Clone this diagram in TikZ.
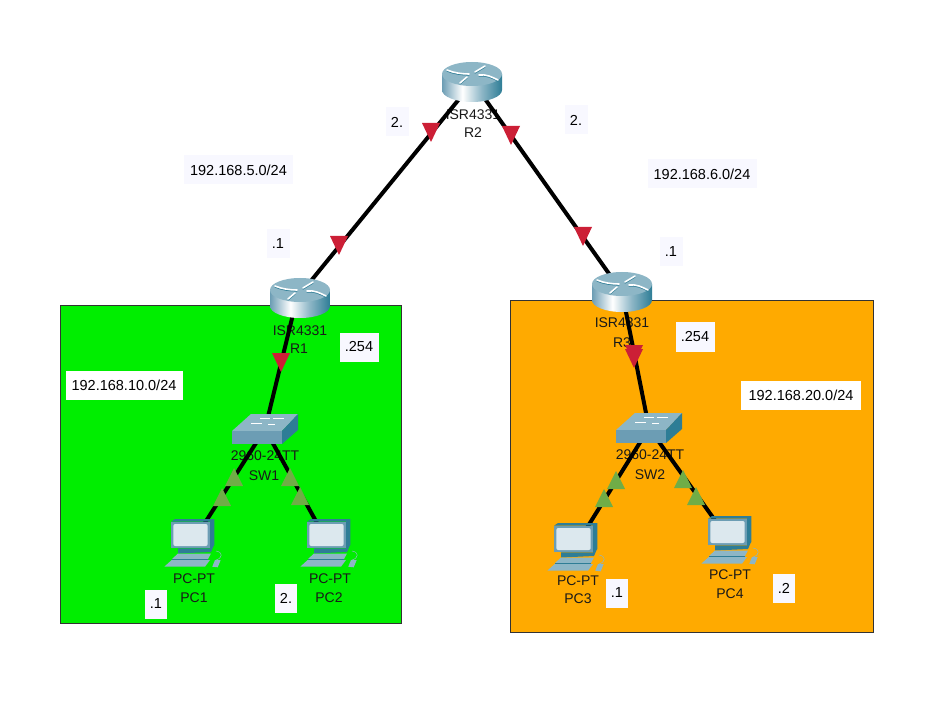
\documentclass[tikz,border=0pt]{standalone}
\usepackage{fontspec}
\setmainfont{Liberation Sans}
\usepackage{xcolor}
\usetikzlibrary{arrows.meta, positioning, calc}

\definecolor{areaGreen}{HTML}{00EE00}
\definecolor{areaOrange}{HTML}{FFAA00}
\definecolor{markRed}{HTML}{CC1F36}
\definecolor{markGreen}{HTML}{70AD47}
\definecolor{tagTint}{HTML}{F8F8FF}
\definecolor{iconTop}{HTML}{8DB6C6}
\definecolor{iconEdge}{HTML}{6C9DB4}
\definecolor{iconDark}{HTML}{2E7D96}
\definecolor{iconPale}{HTML}{DCE8EE}

\pgfdeclarehorizontalshading{routerside}{100bp}{color(0bp)=(iconEdge); color(25bp)=(iconEdge);
  color(42bp)=(white); color(58bp)=(iconTop); color(75bp)=(iconDark); color(100bp)=(iconDark)}

\tikzset{
  area/.style={draw=black!80, line width=1pt},
  link/.style={line width=4pt, black},
  tag/.style={fill=tagTint, font=\fontsize{14.5}{16}\selectfont, inner sep=0pt, minimum height=29pt},
  devlabel/.style={font=\fontsize{14}{16}\selectfont, black!90, inner sep=0pt},
  site/.style={inner sep=0pt, minimum size=1pt},
  redmark/.pic={\fill[markRed] (-9,-9) -- (9,-9) -- (0,10) -- cycle;},
  greenmark/.pic={\fill[markGreen] (-9,9) -- (9,9) -- (0,-9) -- cycle;},
  router/.pic={
    \path[shading=routerside] (-30,-8) -- (-30,8) arc[x radius=30, y radius=12, start angle=180, end angle=0] -- (30,-8) -- cycle;
    \fill[iconTop] (0,-8) ellipse[x radius=30, y radius=12];
    % arrows on the lid
    \draw[iconDark, line width=1.2pt, line cap=round, yshift=-1pt]
      (3,-10) -- (13,-16) (7,-7) .. controls (14,-8) and (20,-5) .. (26,-2)
      (-5,-5) -- (-12,1) (-3,-8) .. controls (-10,-8) and (-18,-9) .. (-25,-12);
    \draw[white, line width=1.6pt, line cap=round]
      (3,-10) -- (13,-16) (7,-7) .. controls (14,-8) and (20,-5) .. (26,-2)
      (-5,-5) -- (-12,1) (-3,-8) .. controls (-10,-8) and (-18,-9) .. (-25,-12);
  },
  switch/.pic={
    \fill[iconTop] (-33,2) -- (-14,-15) -- (33,-15) -- (17,2) -- cycle;
    \fill[iconEdge] (-33,2) rectangle (17,15);
    \fill[iconDark] (17,2) -- (33,-15) -- (33,1) -- (17,15) -- cycle;
    \draw[white, line width=.8pt] (-14,-6) -- (-3,-6) (-5,-11) -- (5,-11) (8,-11) -- (19,-11) (3,-5) -- (10,-5);
  },
  pcicon/.pic={
    \fill[iconDark] (-21,-21.3) -- (-17,-24) -- (22.3,-24) -- (22.3,2) -- (18,6) -- (18,-21.3) -- cycle;
    \fill[iconEdge] (-21,-21.3) rectangle (18,5.3);
    \fill[iconPale, rounded corners=2pt] (-18.7,-19) rectangle (15.7,3);
    \fill[iconDark] (-14,5.3) -- (18,5.3) -- (22,2) -- (19,9) -- (-14,10.5) -- cycle;
    \fill[iconTop] (-20,16) -- (-14,10.5) -- (19,10.5) -- (16,16) -- cycle;
    \fill[iconDark] (-20,16) rectangle (16,17);
    \fill[iconTop] (-27.7,23.7) -- (-20.3,17) -- (18,17) -- (13,23.7) -- cycle;
    \fill[iconTop] (20.3,23.7) -- (23,17) -- (28.7,17) -- (25.7,24.3) -- cycle;
    \draw[iconTop, line width=.5pt] (24,17) .. controls (31,15) and (31,9) .. (24,8);
  }
}

\begin{document}
\begin{tikzpicture}[x=1pt, y=-1pt]
\useasboundingbox (0,0) rectangle (945,711);

% subnets
\draw[area, fill=areaGreen] (60,306) rectangle (401,623);
\draw[area, fill=areaOrange] (510,301) rectangle (873,632);

% sites of the devices
\node[site] (R1) at (297,298) {};
\node[site] (R2) at (473,82) {};
\node[site] (R3) at (622,292) {};
\node[site] (SW1) at (265,429) {};
\node[site] (SW2) at (649,428) {};
\node[site] (PC1) at (192,543) {};
\node[site] (PC2) at (328,543) {};
\node[site] (PC3) at (575,547) {};
\node[site] (PC4) at (729,540) {};

% device names
\node[devlabel] at (300,331) {ISR4331};
\node[devlabel] at (299,349) {R1};
\node[devlabel] at (473,115) {ISR4331};
\node[devlabel] at (473,133) {R2};
\node[devlabel] at (622,323) {ISR4331};
\node[devlabel] at (622,343) {R3};
\node[devlabel] at (265,456) {2960-24TT};
\node[devlabel] at (264,476) {SW1};
\node[devlabel] at (650,455) {2960-24TT};
\node[devlabel] at (650,475) {SW2};
\node[devlabel] at (194,579) {PC-PT};
\node[devlabel] at (194,598) {PC1};
\node[devlabel] at (330,579) {PC-PT};
\node[devlabel] at (329,598) {PC2};
\node[devlabel] at (578,581) {PC-PT};
\node[devlabel] at (578,599) {PC3};
\node[devlabel] at (730,575) {PC-PT};
\node[devlabel] at (730,594) {PC4};

% links
\draw[link] (R1) -- (R2);
\draw[link] (R2) -- (R3);
\draw[link] (R1) -- (SW1);
\draw[link] (R3) -- (SW2);
\draw[link] (SW1) -- (PC1);
\draw[link] (SW1) -- (PC2);
\draw[link] (SW2) -- (PC3);
\draw[link] (SW2) -- (PC4);

% port lights
\foreach \x/\y in {339/245, 431/132, 511/135, 583/236, 281/362, 634/354, 634/358}
  \pic at (\x,\y) {redmark};
\foreach \x/\y in {234/477, 222/497, 290/477, 300/496, 616/480, 604/498, 683/479, 696/496}
  \pic at (\x,\y) {greenmark};

% devices
\pic at ([xshift=3pt]R1) {router};
\pic at ([xshift=-1pt]R2) {router};
\pic at (R3) {router};
\foreach \n in {SW1,SW2} \pic at (\n) {switch};
\foreach \n in {PC1,PC2,PC3,PC4} \pic at (\n) {pcicon};

% addresses
\node[tag, minimum width=109pt] (netA) at (238.5,170) {192.168.5.0/24};
\node[tag, minimum width=109pt] (netB) at (702,174) {192.168.6.0/24};
\node[tag, minimum width=23pt] (tagA) at (397,122) {2.};
\node[tag, minimum width=23pt] (tagB) at (576,120) {2.};
\node[tag, minimum width=23pt] (tagC) at (278,244) {.1};
\node[tag, minimum width=23pt] (tagD) at (671,252) {.1};
\node[tag, fill=white, minimum width=117pt] (netC) at (124,385) {192.168.10.0/24};
\node[tag, fill=white, minimum width=120pt] (netD) at (801,395) {192.168.20.0/24};
\node[tag, minimum width=39pt] (tagE) at (359,347) {.254};
\node[tag, minimum width=39pt] (tagF) at (695,337) {.254};
\node[tag, minimum width=22pt] (tagG) at (156,604) {.1};
\node[tag, minimum width=22pt] (tagH) at (286,598) {2.};
\node[tag, minimum width=22pt] (tagI) at (617,593) {.1};
\node[tag, minimum width=22pt] (tagJ) at (784,588) {.2};
\end{tikzpicture}
\end{document}
